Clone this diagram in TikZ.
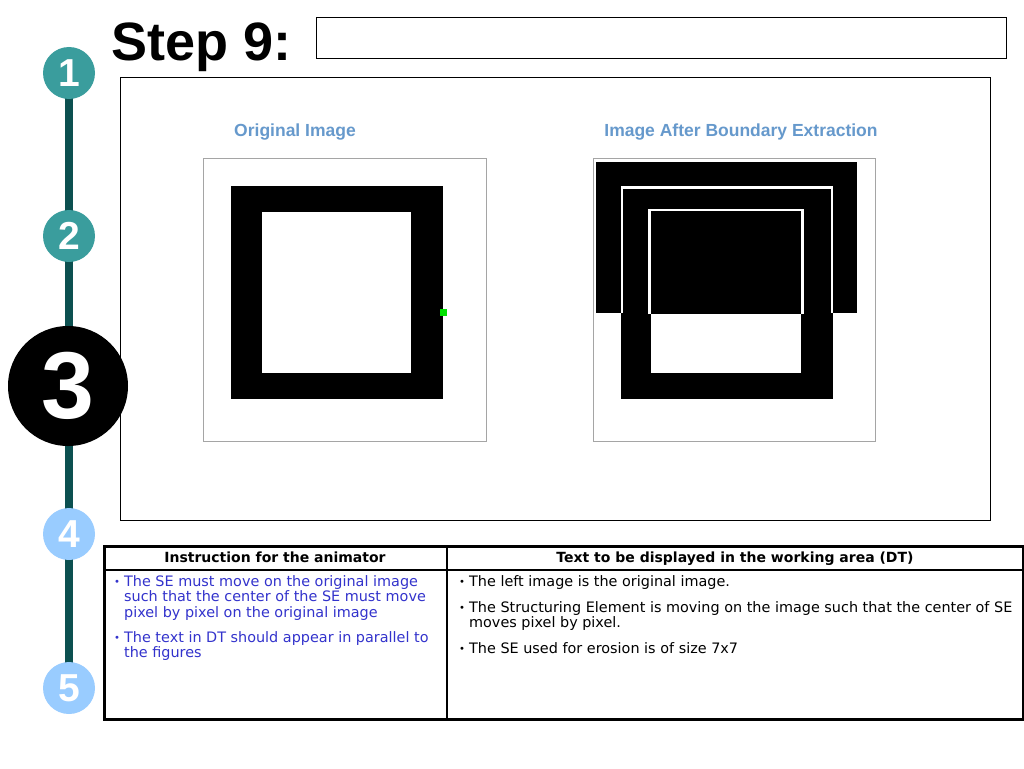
\documentclass[tikz,border=0pt]{standalone}
\usepackage{fontspec}
\setmainfont{DejaVu Sans}
\newfontfamily\arial{Liberation Sans}
\usetikzlibrary{backgrounds}
\definecolor{teal1}{RGB}{58,157,157}
\definecolor{lblue}{RGB}{153,204,255}
\definecolor{dteal}{RGB}{12,80,80}
\definecolor{ttl}{RGB}{102,153,204}
\definecolor{instr}{RGB}{51,51,204}
\definecolor{frm}{RGB}{165,165,165}
\definecolor{sgreen}{RGB}{0,225,0}
\tikzset{
  num/.style={circle, minimum size=52pt, inner sep=0pt, text=white,
    font=\arial\bfseries\fontsize{39}{39}\selectfont},
  bigbox/.style={draw=black, line width=0.8pt, anchor=north west, inner sep=0pt},
  frame/.style={draw=frm, line width=1pt, anchor=north west, inner sep=0pt},
  lbl/.style={text=ttl, font=\arial\bfseries\fontsize{17.5}{17.5}\selectfont},
  hdr/.style={anchor=base, inner sep=0pt, font=\bfseries\fontsize{14}{15}\selectfont},
  body/.style={anchor=north west, inner sep=0pt, font=\fontsize{14.4}{15.2}\selectfont},
}
\newcommand{\bul}{\raisebox{0.1ex}{\scalebox{0.7}{\textbullet}}}
\begin{document}
\begin{tikzpicture}[x=1pt,y=-1pt]
\useasboundingbox (0,0) rectangle (1024,768);
% step circles
\node[num, fill=teal1] (c1) at (69,73) {1};
\node[num, fill=teal1] (c2) at (69,236) {2};
\node[num, fill=black, minimum size=120pt, font=\arial\bfseries\fontsize{95}{95}\selectfont] (c3) at (68,386) {3};
\node[num, fill=lblue] (c4) at (69,534) {4};
\node[num, fill=lblue] (c5) at (69,688) {5};
\begin{pgfonlayer}{background}
\fill[white] (0,0) rectangle (1024,768);
\draw[line width=8pt, dteal] (c1.center) -- (c5.center);
\end{pgfonlayer}
% title
\node[anchor=base west, inner sep=0pt, font=\arial\bfseries\fontsize{54}{54}\selectfont] (title) at (111,60) {Step 9:};
\node[bigbox, minimum width=690pt, minimum height=41pt] (topbox) at (316,17) {};
\node[bigbox, minimum width=870pt, minimum height=443pt] (mainbox) at (120,77) {};
% image labels
\node[lbl] (l1) at (295,132) {Original Image};
\node[lbl] (l2) at (741,132) {Image After Boundary Extraction};
% image frames
\node[frame, minimum width=283pt, minimum height=283pt] (f1) at (203,158) {};
\node[frame, minimum width=282pt, minimum height=283pt] (f2) at (593,158) {};
% original image
\fill[black] (231,186) rectangle (443,399);
\fill[white] (262,212) rectangle (411,373);
\fill[sgreen] (439.5,309.3) rectangle (446.5,316.3);
% boundary extraction image
\fill[black] (596,162) rectangle (857,313);
\fill[black] (621,188) rectangle (833,399);
\draw[white, line width=2.7pt] (622,313) -- (622,187.7) -- (832,187.7) -- (832,313);
\draw[white, line width=2.7pt] (649.7,314) -- (649.7,210) -- (802.7,210) -- (802.7,314);
\fill[white] (651,314) rectangle (801,373);
% table
\node[draw=black, line width=3pt, anchor=north west, inner sep=0pt, minimum width=919pt, minimum height=173pt] (tbl) at (103,545) {};
\draw[line width=1.5pt] (tbl.north west |- 0,570) -- (tbl.north east |- 0,570);
\draw[line width=1.5pt] (447,0 |- tbl.north) -- (447,0 |- tbl.south);
\node[hdr] (h1) at (275,562) {Instruction for the animator};
\node[hdr] (h2) at (735,562) {Text to be displayed in the working area (DT)};
% left column
\node[body, text=instr] (b1) at (114,575) {\begin{tabular}{@{}l@{\hspace{4pt}}l@{}}\bul & The SE must move on the original image\\ & such that the center of the SE must move\\ & pixel by pixel on the original image\end{tabular}};
\node[body, text=instr] (b2) at (114,631) {\begin{tabular}{@{}l@{\hspace{4pt}}l@{}}\bul & The text in DT should appear in parallel to\\ & the figures\end{tabular}};
% right column
\node[body] (r1) at (459,575) {\begin{tabular}{@{}l@{\hspace{4pt}}l@{}}\bul & The left image is the original image.\end{tabular}};
\node[body] (r2) at (459,601) {\begin{tabular}{@{}l@{\hspace{4pt}}l@{}}\bul & The Structuring Element is moving on the image such that the center of SE\\ & moves pixel by pixel.\end{tabular}};
\node[body] (r3) at (459,642) {\begin{tabular}{@{}l@{\hspace{4pt}}l@{}}\bul & The SE used for erosion is of size 7x7\end{tabular}};
\end{tikzpicture}
\end{document}
